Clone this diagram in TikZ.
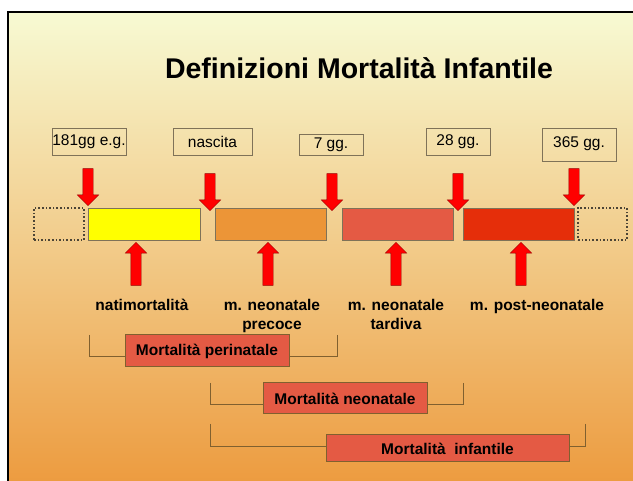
\documentclass[tikz,border=0pt]{standalone}
\usepackage{fontspec}
\setmainfont{Liberation Sans}
\usetikzlibrary{shapes.arrows}
\definecolor{ctop}{HTML}{F7FAD3}
\definecolor{cmid}{HTML}{F2CF9C}
\definecolor{cbot}{HTML}{EC983A}
\definecolor{cyellow}{HTML}{FFFF00}
\definecolor{corange}{HTML}{EC9537}
\definecolor{clight}{HTML}{E45A44}
\definecolor{cdeep}{HTML}{E52E0A}
\definecolor{carrow}{HTML}{FF0000}
\definecolor{cedge}{HTML}{7F7258}
\definecolor{cbrown}{HTML}{80602F}
\tikzset{
  every picture/.style={x=1pt, y=-1pt, font=\fontsize{15.5}{19}\selectfont},
  tag/.style={draw=cedge, line width=0.9pt, inner sep=0pt, minimum height=27pt},
  bar/.style={draw=cedge, fill=#1, line width=0.9pt, minimum height=32pt, inner sep=0pt},
  ghost/.style={draw=cedge!60!black, dotted, line width=1.6pt, minimum height=32pt, inner sep=0pt},
  blockarrow/.style={single arrow, draw=carrow!60!black, line width=0.4pt, fill=carrow,
    minimum width=21pt, single arrow head extend=5.5pt, single arrow tip angle=90,
    inner xsep=0pt, inner ysep=5pt},
  downarrow/.style={blockarrow, rotate=-90, minimum height=37pt},
  uparrow/.style={blockarrow, rotate=90, minimum height=43pt},
  lab/.style={font=\fontsize{15.5}{19}\selectfont\bfseries, align=center, anchor=north, inner sep=0pt},
  sumbox/.style={draw=cbrown, fill=clight, line width=1pt, inner sep=0pt,
    font=\fontsize{15.5}{19}\selectfont\bfseries},
  bracket/.style={draw=cbrown, line width=0.9pt},
  title/.style={font=\fontsize{28.5}{34}\selectfont\bfseries},
}
\begin{document}
\begin{tikzpicture}
  \useasboundingbox (0,0) rectangle (633,481);
  \clip (0,0) rectangle (633,481);
  \fill[white] (0,0) rectangle (633,481);
  \shade[top color=ctop, middle color=cmid, bottom color=cbot] (8,12) rectangle (660,500);
  \draw[line width=2pt] (8,500) -- (8,12) -- (660,12);

  \node[title, anchor=base] (title) at (359,79) {Definizioni Mortalità Infantile};

  \node[tag, minimum width=74pt] (t0) at (89,141.5) {181gg e.g.};
  \node[tag, minimum width=79pt] (t1) at (212.5,141.5) {nascita};
  \node[tag, minimum width=64pt, minimum height=21pt] (t2) at (331,144.5) {7 gg.};
  \node[tag, minimum width=64pt] (t3) at (458,141.5) {28 gg.};
  \node[tag, minimum width=74pt, minimum height=33pt, text depth=5pt] (t4) at (579,144.5) {365 gg.};

  \node[downarrow] (d0) at (88,184.5) {};
  \node[downarrow] (d1) at (210,189.5) {};
  \node[downarrow] (d2) at (332,189.5) {};
  \node[downarrow] (d3) at (458,189.5) {};
  \node[downarrow] (d4) at (574,184.5) {};

  \node[ghost, minimum width=50pt] (g0) at (59,224) {};
  \node[bar=cyellow, minimum width=112pt] (b1) at (144,224) {};
  \node[bar=corange, minimum width=111pt] (b2) at (270.5,224) {};
  \node[bar=clight, minimum width=111pt] (b3) at (397.5,224) {};
  \node[bar=cdeep, minimum width=111pt] (b4) at (518.5,224) {};
  \node[ghost, minimum width=49pt] (g1) at (602.5,224) {};

  \node[uparrow] (u1) at (136,266.5) {};
  \node[uparrow] (u2) at (268,266.5) {};
  \node[uparrow] (u3) at (396,266.5) {};
  \node[uparrow] (u4) at (521,266.5) {};

  \node[lab] (l1) at (142,299) {natimortalità};
  \node[lab] (l2) at (272,299) {m. neonatale\\precoce};
  \node[lab] (l3) at (396,299) {m. neonatale\\tardiva};
  \node[lab] (l4) at (537,299) {m. post-neonatale};

  \node[sumbox, minimum width=164pt, minimum height=32pt] (peri) at (207,351) {Mortalità perinatale};
  \node[sumbox, minimum width=164pt, minimum height=31pt] (neo) at (345,398.5) {Mortalità neonatale};
  \node[sumbox, minimum width=243pt, minimum height=27pt] (inf) at (447.5,448.5) {Mortalità\ \ infantile};

  \coordinate (pl) at (89,335);  \coordinate (pr) at (337,335);
  \coordinate (nl) at (210,383); \coordinate (nr) at (463,383);
  \coordinate (il) at (210,424); \coordinate (ir) at (585,424);
  \draw[bracket] (pl) |- ([yshift=-5pt]peri.west);
  \draw[bracket] (pr) |- ([yshift=-5pt]peri.east);
  \draw[bracket] (nl) |- ([yshift=-5.5pt]neo.west);
  \draw[bracket] (nr) |- ([yshift=-5.5pt]neo.east);
  \draw[bracket] (il) |- ([yshift=2.5pt]inf.west);
  \draw[bracket] (ir) |- ([yshift=2.5pt]inf.east);
\end{tikzpicture}
\end{document}
